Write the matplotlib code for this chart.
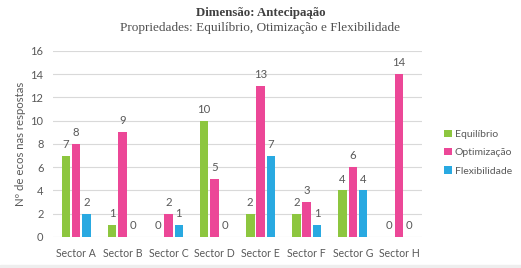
import numpy as np
import matplotlib as ma
ma.use('agg')
import matplotlib.pyplot as plt
from matplotlib.patches import Rectangle

sectors = ['Sector A', 'Sector B', 'Sector C', 'Sector D',
           'Sector E', 'Sector F', 'Sector G', 'Sector H']
equilibrio = [7, 1, 0, 10, 2, 2, 4, 0]
optimizacao = [8, 9, 2, 5, 13, 3, 6, 14]
flexibilidade = [2, 0, 1, 0, 7, 1, 4, 0]
series_names = ['Equilíbrio', 'Optimização', 'Flexibilidade']
colors = ['#8dc63f', '#ec4797', '#29a9e1']
yticks = list(range(0, 17, 2))

def main():
    fig = plt.figure(figsize=(5.21, 2.68), dpi=100)
    ax = fig.add_axes([0.102, 0.116, 0.708, 0.694])
    x = np.arange(len(sectors))
    w = 0.185
    off = 0.225
    txt = '#595959'
    fs = 7.6
    for i, (vals, name, c) in enumerate(zip([equilibrio, optimizacao, flexibilidade],
                                            series_names, colors)):
        pos = x + (i - 1) * off
        ax.bar(pos, vals, width=w, color=c, label=name, zorder=3)
        for p, v in zip(pos, vals):
            ax.text(p, v + 0.5, str(v), ha='center', va='bottom',
                    fontsize=8.2, color=txt, family='Lato')

    ax.set_xlim(-0.5, 7.5)
    ax.set_ylim(0, 16)
    ax.set_yticks(yticks)
    ax.set_xticks(x)
    ax.set_xticklabels(sectors, family='Lato', fontsize=fs, color=txt)
    for lab in ax.get_yticklabels():
        lab.set_family('Lato')
        lab.set_fontsize(8)
        lab.set_color(txt)
    ax.tick_params(length=0)
    ax.tick_params(axis='x', pad=8)
    ax.tick_params(axis='y', pad=7)
    ax.grid(axis='y', color='#d9d9d9', linewidth=0.8, zorder=0)
    for s in ax.spines.values():
        s.set_visible(False)
    ax.set_ylabel('Nº de ecos nas respostas', family='Lato', fontsize=8.2,
                  color=txt, labelpad=3)

    leg = fig.legend(loc='center left', bbox_to_anchor=(0.835, 0.43),
                     frameon=False, handlelength=0.7, handleheight=0.7,
                     handletextpad=0.3, labelspacing=0.85,
                     prop={'family': 'Lato', 'size': 7.5})
    for t in leg.get_texts():
        t.set_color(txt)

    fig.text(0.5, 0.952, 'Dimensão: Antecipaąão', ha='center', va='center',
             family='Liberation Serif', fontweight='bold', fontsize=9.3, color='#404040')
    fig.text(0.5, 0.897, 'Propriedades: Equilíbrio, Otimização e Flexibilidade',
             ha='center', va='center', family='Liberation Serif', fontsize=9.5,
             color='#505050')
    fig.patches.append(Rectangle((0, 0), 1, 0.012, transform=fig.transFigure,
                                 color='#eeeeee', zorder=0))
    fig.savefig('out.png', dpi=100)

if __name__ == "__main__":
    main()
